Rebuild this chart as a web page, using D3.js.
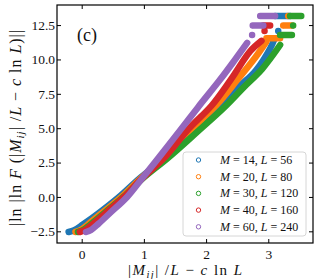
<!DOCTYPE html>
<html>
<head>
<meta charset="utf-8">
<script src="https://cdn.jsdelivr.net/npm/d3@7"></script>
<style>
  body { margin: 0; background: #fff; }
  svg { display: block; }
  text { font-family: "Liberation Serif", "DejaVu Serif", serif; fill: #111; }
</style>
</head>
<body>
<div id="chart"></div>
<script>
// legend values (M, L) and colours
const legendM = [14, 20, 30, 40, 60];
const legendL = [56, 80, 120, 160, 240];
const colors = ["#1f77b4", "#ff7f0e", "#2ca02c", "#d62728", "#9467bd"];

// tick labels
const xTicks = [0, 1, 2, 3];
const yTicks = [-2.5, 0.0, 2.5, 5.0, 7.5, 10.0, 12.5];

// main band of each series (x, y), null = break between groups of points
const bandM14 = [[-0.21,-2.55],[-0.12,-2.42],[0.02,-2.0],[0.28,-1.15],[0.6,0.0],[0.93,1.35],[1.38,3.0],[1.8,4.9],[2.23,6.75],[2.55,8.1],[2.8,9.2],[3.03,10.8],[3.1,11.5],
  null,[3.16,12.07],null,[3.11,13.16],[3.35,13.16]];
const bandM20 = [[-0.1,-2.55],[-0.02,-2.42],[0.1,-2.0],[0.33,-1.15],[0.64,0.0],[0.95,1.35],[1.36,3.0],[1.76,4.9],[2.17,6.7],[2.5,8.5],[2.8,10.2],[2.97,11.3],
  null,[2.97,11.54],[3.19,11.54],null,[3.24,12.46],[3.38,12.46],null,[3.32,13.16]];
const bandM30 = [[-0.06,-2.55],[0.02,-2.42],[0.14,-2.0],[0.37,-1.15],[0.67,0.0],[0.97,1.3],[1.39,2.85],[1.85,4.7],[2.3,6.55],[2.6,7.95],[2.9,9.3],[3.19,11.05],
  null,[3.19,11.78],[3.38,11.78],null,[3.4,12.46],null,[3.35,13.16],[3.53,13.16]];
const bandM40 = [[-0.03,-2.55],[0.05,-2.42],[0.17,-2.0],[0.39,-1.15],[0.68,0.0],[0.97,1.35],[1.34,2.9],[1.72,4.95],[2.09,6.65],[2.4,8.55],[2.71,10.6],[2.89,11.35],
  null,[2.94,12.07],null,[2.92,12.46],[3.03,12.46]];
const bandM60 = [[0.07,-2.55],[0.15,-2.4],[0.27,-1.95],[0.46,-1.15],[0.73,0.0],[0.98,1.4],[1.29,3.15],[1.6,4.95],[1.875,6.55],[2.22,8.5],[2.46,9.95],[2.66,11.2],
  null,[2.74,11.78],null,[2.75,12.46],[2.92,12.46],null,[2.87,13.16],[3.11,13.16]];
const bands = [bandM14, bandM20, bandM30, bandM40, bandM60];

const width = 319, height = 279;
const margin = {top: 5, right: 6, bottom: 36, left: 57};
const plotW = width - margin.left - margin.right;
const plotH = height - margin.top - margin.bottom;

const svg = d3.select("#chart").append("svg")
  .attr("width", width).attr("height", height);

const x = d3.scaleLinear().domain([-0.397, 3.719]).range([0, plotW]);
const y = d3.scaleLinear().domain([-3.35, 13.96]).range([plotH, 0]);

const g = svg.append("g").attr("transform", `translate(${margin.left},${margin.top})`);

g.append("clipPath").attr("id", "clip")
  .append("rect").attr("width", plotW).attr("height", plotH);

const marks = g.append("g").attr("clip-path", "url(#clip)");

const line = d3.line()
  .defined(d => d)
  .x(d => x(d[0])).y(d => y(d[1]))
  .curve(d3.curveCatmullRom);

bands.forEach((pts, i) => {
  const s = marks.append("g");
  s.append("path")
    .attr("d", line(pts))
    .attr("fill", "none")
    .attr("stroke", colors[i])
    .attr("stroke-width", 6.5)
    .attr("stroke-linecap", "round")
    .attr("stroke-linejoin", "round");
  s.selectAll("circle").data(pts.filter(d => d)).enter()
    .append("circle")
    .attr("cx", d => x(d[0])).attr("cy", d => y(d[1]))
    .attr("r", 2.2)
    .attr("fill", "none")
    .attr("stroke", colors[i])
    .attr("stroke-width", 1);
});

// axes: inward ticks on all four sides
g.append("g").attr("transform", `translate(0,${plotH})`)
  .call(d3.axisBottom(x).tickValues(xTicks).tickSizeInner(-4).tickSizeOuter(0).tickPadding(6).tickFormat(d3.format("d")));
g.append("g")
  .call(d3.axisTop(x).tickValues(xTicks).tickSizeInner(-4).tickSizeOuter(0).tickFormat(""));
g.append("g")
  .call(d3.axisLeft(y).tickValues(yTicks).tickSizeInner(-4).tickSizeOuter(0).tickPadding(2).tickFormat(d3.format(".1f")));
g.append("g").attr("transform", `translate(${plotW},0)`)
  .call(d3.axisRight(y).tickValues(yTicks).tickSizeInner(-4).tickSizeOuter(0).tickFormat(""));

g.selectAll(".domain").remove();
g.selectAll(".tick line").attr("stroke", "#000").attr("stroke-width", 1);
g.selectAll(".tick text").style("font-family", "Liberation Serif, serif")
  .style("font-size", "13.5px").attr("fill", "#222");
// minus sign
g.selectAll(".tick text").text(function() { return this.textContent.replace("-", "\u2212"); });

g.append("rect").attr("width", plotW).attr("height", plotH)
  .attr("fill", "none").attr("stroke", "#000").attr("stroke-width", 1.2);

// panel label
g.append("text").attr("x", 20).attr("y", 36)
  .style("font-size", "18px").text("(c)");

// legend
const lg = g.append("g").attr("transform", `translate(${126},${147})`);
lg.append("rect").attr("width", 123).attr("height", 84).attr("rx", 3)
  .attr("fill", "#fff").attr("fill-opacity", 0.85)
  .attr("stroke", "#d6d6d6").attr("stroke-width", 1);
legendM.forEach((m, i) => {
  const row = lg.append("g").attr("transform", `translate(0,${8 + i * 16.7})`);
  row.append("circle").attr("cx", 15.5).attr("cy", 0).attr("r", 2.2)
    .attr("fill", "none").attr("stroke", colors[i]).attr("stroke-width", 1);
  const t = row.append("text").attr("x", 37).attr("y", 4).style("font-size", "12px").attr("fill", "#333");
  t.append("tspan").style("font-style", "italic").text("M");
  t.append("tspan").text(` = ${m}, `);
  t.append("tspan").style("font-style", "italic").text("L");
  t.append("tspan").text(` = ${legendL[i]}`);
});

// x label
const xl = svg.append("text").attr("x", 185).attr("y", 274.5)
  .attr("text-anchor", "middle").style("font-size", "15px")
  .attr("textLength", 114).attr("lengthAdjust", "spacing");
xl.append("tspan").text("|");
xl.append("tspan").style("font-style", "italic").text("M");
xl.append("tspan").style("font-style", "italic").style("font-size", "10.5px").attr("dy", 3).text("ij");
xl.append("tspan").attr("dy", -3).text("| /");
xl.append("tspan").style("font-style", "italic").text("L");
xl.append("tspan").text(" \u2212 ");
xl.append("tspan").style("font-style", "italic").text("c");
xl.append("tspan").text(" ln ");
xl.append("tspan").style("font-style", "italic").text("L");

// y label
const yl = svg.append("text")
  .attr("transform", "translate(21,128) rotate(-90)")
  .attr("text-anchor", "middle").style("font-size", "16px")
  .attr("textLength", 196).attr("lengthAdjust", "spacing");
yl.append("tspan").text("|ln |ln ");
yl.append("tspan").style("font-style", "italic").text("F");
yl.append("tspan").text(" (|");
yl.append("tspan").style("font-style", "italic").text("M");
yl.append("tspan").style("font-style", "italic").style("font-size", "11px").attr("dy", 3).text("ij");
yl.append("tspan").attr("dy", -3).text("| /");
yl.append("tspan").style("font-style", "italic").text("L");
yl.append("tspan").text(" \u2212 ");
yl.append("tspan").style("font-style", "italic").text("c");
yl.append("tspan").text(" ln ");
yl.append("tspan").style("font-style", "italic").text("L");
yl.append("tspan").text(")||");
</script>
</body>
</html>
